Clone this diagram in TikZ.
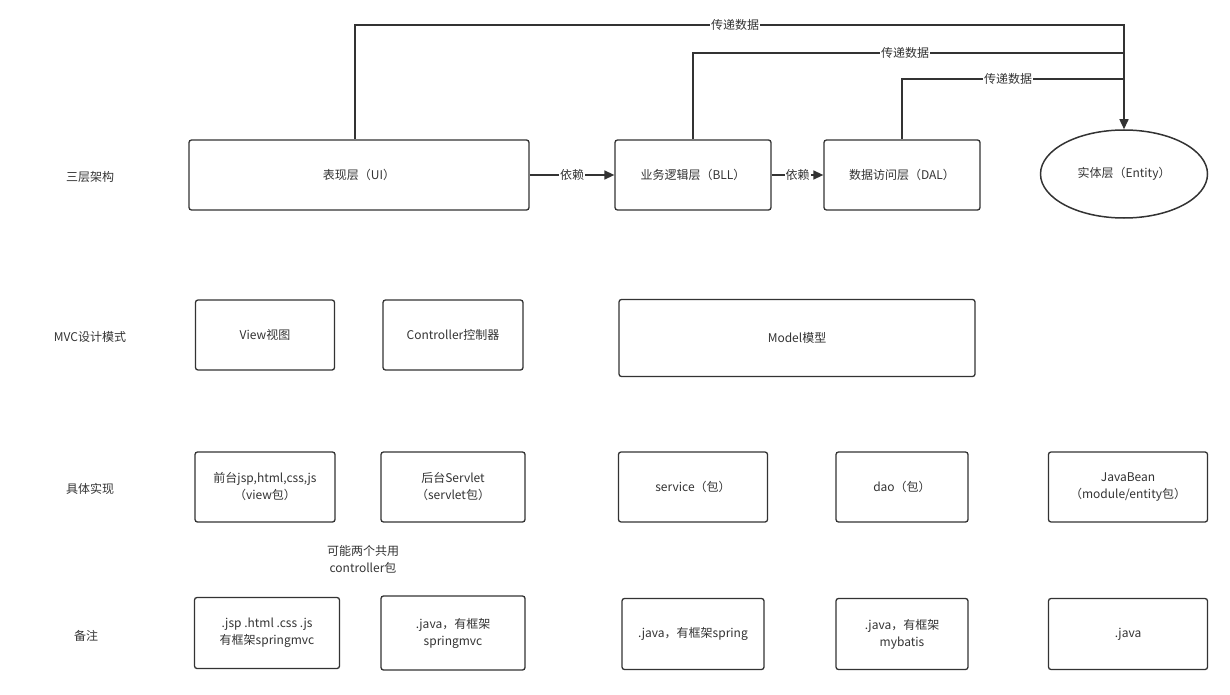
\documentclass[tikz,border=0pt]{standalone}
\usepackage{fontspec}
\setmainfont{Noto Sans CJK SC}
\usetikzlibrary{arrows.meta, shapes.geometric}
\definecolor{linegray}{RGB}{51,51,51}

\begin{document}
\begin{tikzpicture}[
    x=1pt, y=-1pt,
    >={Triangle[length=10pt, width=9pt]},
    font=\fontsize{12}{17}\selectfont,
    box/.style={rectangle, draw=linegray, line width=1.3pt, rounded corners=2.5pt, fill=white, align=center, inner sep=0pt, text=black!80},
    layerbox/.style={box, minimum height=70pt},
    mvcbox/.style={box, minimum height=70pt},
    implbox/.style={box, minimum height=70pt},
    notebox/.style={box, minimum height=71pt},
    entitybox/.style={ellipse, draw=linegray, line width=1.5pt, minimum width=167pt, minimum height=88pt, inner sep=0pt, text=black!80},
    rowlabel/.style={text=black!80},
    conn/.style={draw=linegray, line width=1.5pt},
    linelabel/.style={fill=white, inner sep=1pt, text=black!80},
]
    \useasboundingbox (0,0) rectangle (1230,695);

    % row titles
    \node[rowlabel] (r1) at (90,177) {三层架构};
    \node[rowlabel] (r2) at (90,337) {MVC设计模式};
    \node[rowlabel] (r3) at (90,489) {具体实现};
    \node[rowlabel] (r4) at (86,636) {备注};

    % three layers
    \node[layerbox, minimum width=340pt] (ui) at (359,175) {表现层（UI）};
    \node[layerbox, minimum width=156pt] (bll) at (693,175) {业务逻辑层（BLL）};
    \node[layerbox, minimum width=156pt] (dal) at (902,175) {数据访问层（DAL）};
    \node[entitybox] (entity) at (1124,174) {实体层（Entity）};

    \draw[conn, ->] (ui.east) -- node[linelabel] (dep1) {依赖} (bll.west);
    \draw[conn, ->] (bll.east) -- node[linelabel] (dep2) {依赖} (dal.west);

    % data passing lines
    \coordinate (top1) at (1124,25);
    \coordinate (top2) at (1124,53);
    \coordinate (top3) at (1124,79);
    \draw[conn, ->] ([xshift=-4pt]ui.north) |- (top1) -- (entity.north);
    \draw[conn] (bll.north) |- (top2);
    \draw[conn] (dal.north) |- (top3);
    \node[linelabel] (pass1) at (735,25) {传递数据};
    \node[linelabel] (pass2) at (905,53) {传递数据};
    \node[linelabel] (pass3) at (1008,79) {传递数据};

    % MVC
    \node[mvcbox, minimum width=139pt] (view) at (265,335) {View视图};
    \node[mvcbox, minimum width=140pt] (ctrl) at (453,335) {Controller控制器};
    \node[mvcbox, minimum width=356pt, minimum height=77pt] (model) at (797,338) {Model模型};

    % implementation
    \node[implbox, minimum width=140pt] (front) at (265,487) {前台jsp,html,css,js\\（view包）};
    \node[implbox, minimum width=144pt] (back) at (453,487) {后台Servlet\\（servlet包）};
    \node[implbox, minimum width=149pt] (service) at (693,487) {service（包）};
    \node[implbox, minimum width=132pt] (dao) at (902,487) {dao（包）};
    \node[implbox, minimum width=159pt] (bean) at (1128,487) {JavaBean\\（module/entity包）};

    \node[align=center, text=black!80] (share) at (363,559) {可能两个共用\\controller包};

    % notes
    \node[notebox, minimum width=145pt] (n1) at (267,633) {.jsp .html .css .js\\有框架springmvc};
    \node[notebox, minimum width=144pt, minimum height=74pt] (n2) at (453,633) {.java，有框架\\springmvc};
    \node[notebox, minimum width=142pt] (n3) at (693,634) {.java，有框架spring};
    \node[notebox, minimum width=132pt] (n4) at (902,634) {.java，有框架\\mybatis};
    \node[notebox, minimum width=159pt] (n5) at (1128,634) {.java};
\end{tikzpicture}
\end{document}
